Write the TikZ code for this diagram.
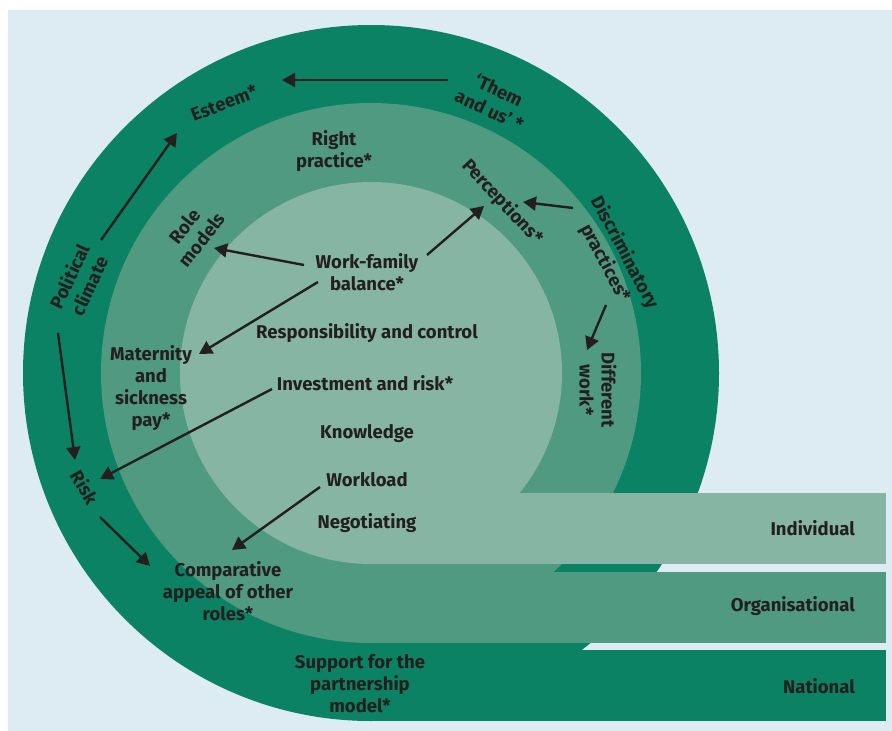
\documentclass[tikz,border=0pt]{standalone}
\usepackage{fontspec}
\setmainfont{Fira Sans}
\usepackage{tikz}
\usetikzlibrary{arrows.meta}
\definecolor{bgblue}{HTML}{DDEBF2}
\definecolor{natgreen}{HTML}{0B8263}
\definecolor{orggreen}{HTML}{4F9A80}
\definecolor{indgreen}{HTML}{86B5A3}
\definecolor{ink}{HTML}{231F20}
\tikzset{
  lbl/.style={anchor=center, align=center, text=ink, inner sep=0pt,
    font=\fontsize{18.5}{22}\selectfont\bfseries},
  arr/.style={draw=ink, line width=2.4pt, -{Triangle[length=13pt,width=14pt]}}
}

\begin{document}
\begin{tikzpicture}[x=1pt, y=-1pt] % 1 unit = 1 px of the figure

\useasboundingbox (0,0) rectangle (892,731);
\fill[bgblue] (8,10) rectangle (892,731);

% three levels, outer to inner
\fill[natgreen] (371,373) circle[radius=348pt];
\fill[natgreen] (371,650) rectangle (886,721);
\fill[orggreen] (371,373) circle[radius=270pt];
\fill[orggreen] (371,572) rectangle (886,643);
\fill[indgreen] (371,373) circle[radius=191pt];
\fill[indgreen] (371,493) rectangle (886,564);

\node[lbl, rotate=21] (esteem) at (224,103) {Esteem*};
\node[lbl, rotate=-25] (them) at (494,100) {‘Them\\and us’ *};
\node[lbl] (rightp) at (334,151) {Right\\practice*};
\node[lbl, rotate=-47] (percep) at (502,202) {Perceptions*};
\node[lbl, rotate=-62] (discrim) at (615,258) {Discriminatory\\practices*};
\node[lbl, rotate=-90] (diffw) at (598,390) {Different\\work*};
\node[lbl, rotate=65] (polit) at (79,281) {Political\\climate};
\node[lbl, rotate=52] (rolem) at (193,233) {Role\\models};
\node[lbl] (wfb) at (367,272) {Work-family\\balance*};
\node[lbl] (resp) at (367,333) {Responsibility and control};
\node[lbl] (matern) at (151,388) {Maternity\\and\\sickness\\pay*};
\node[lbl] (invest) at (365,383) {Investment and risk*};
\node[lbl] (know) at (367,434) {Knowledge};
\node[lbl] (workl) at (367,480) {Workload};
\node[lbl] (negot) at (367,523) {Negotiating};
\node[lbl, rotate=-60] (risk) at (85,487) {Risk};
\node[lbl] (compar) at (228,591) {Comparative\\appeal of other\\roles*};
\node[lbl] (support) at (360,684) {Support for the\\partnership\\model*};
\node[lbl, anchor=east] (indiv) at (855,528) {Individual};
\node[lbl, anchor=east] (organ) at (855,606) {Organisational};
\node[lbl, anchor=east] (nation) at (855,686) {National};

\draw[arr] ([shift={(-46,-20)}]them.center) -- ([shift={(58,-23)}]esteem.center);
\draw[arr] ([shift={(22,-41)}]polit.center) -- ([shift={(-47,30)}]esteem.center);
\draw[arr] ([shift={(-21,52)}]polit.center) -- ([shift={(-10,-27)}]risk.center);
\draw[arr] ([shift={(15,30)}]risk.center) -- ([shift={(-78,-25)}]compar.center);
\draw[arr] ([shift={(-93,6)}]invest.center) -- ([shift={(15,-8)}]risk.center);
\draw[arr] ([shift={(-63,-7)}]wfb.center) -- ([shift={(21,15)}]rolem.center);
\draw[arr] ([shift={(-49,10)}]wfb.center) -- ([shift={(48,-34)}]matern.center);
\draw[arr] ([shift={(60,-17)}]wfb.center) -- ([shift={(-18,4)}]percep.center);
\draw[arr] ([shift={(-42,-50)}]discrim.center) -- ([shift={(21,0)}]percep.center);
\draw[arr] ([shift={(-9,47)}]discrim.center) -- ([shift={(-11,-40)}]diffw.center);
\draw[arr] ([shift={(-47,7)}]workl.center) -- ([shift={(4,-41)}]compar.center);

\end{tikzpicture}
\end{document}
